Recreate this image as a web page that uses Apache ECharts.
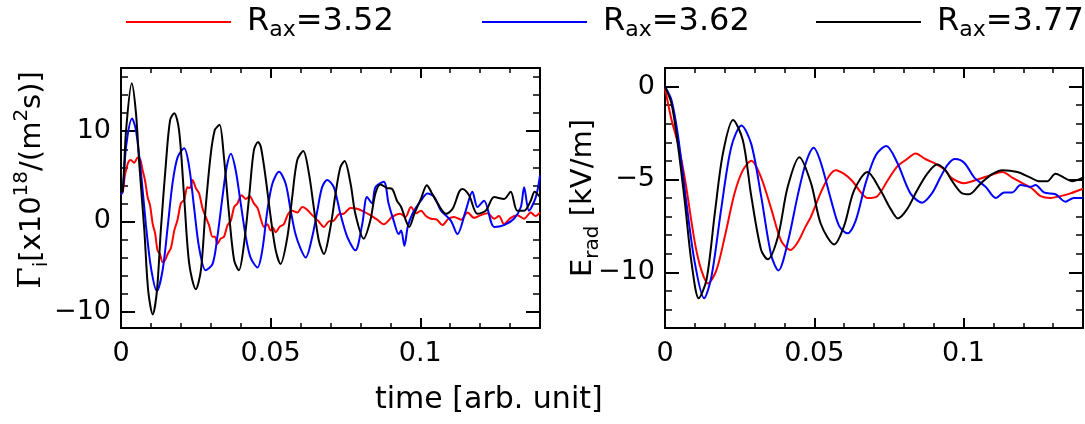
<!DOCTYPE html>
<html>
<head>
<meta charset="utf-8">
<script src="https://cdn.jsdelivr.net/npm/echarts@6.0.0/dist/echarts.min.js"></script>
<style>
  html, body { margin: 0; background: #fff; }
  #chart { width: 1085px; height: 424px; }
</style>
</head>
<body>
<div id="chart"></div>
<script>
// time axis ticks (both panels)
const timeMajor = [0, 0.05, 0.1]
const timeMinor = [0.01, 0.02, 0.03, 0.04, 0.06, 0.07, 0.08, 0.09, 0.11, 0.12, 0.13]
const fluxMajor = [-10, 0, 10]
const fluxMinor = [-8, -6, -4, -2, 2, 4, 6, 8, 12, 14, 16]
const eradMajor = [-10, -5, 0]
const eradMinor = [-12, -11, -9, -8, -7, -6, -4, -3, -2, -1]

const names = ['R_ax=3.52', 'R_ax=3.62', 'R_ax=3.77']
const colors = ['#ff0000', '#0000ff', '#000000']

// left panel: ion flux [t, value]
const flux352 = [[0,3.0],[0.0006,3.3],[0.0012,4.9],[0.0017,5.7],[0.0025,6.6],[0.0033,6.8],[0.0044,6.5],[0.0056,7.1],[0.0064,6.9],[0.0072,5.7],[0.008,4.6],[0.0089,2.7],[0.0097,1.8],[0.0106,-0.3],[0.0114,-1.3],[0.0122,-3.2],[0.013,-3.6],[0.0139,-4.5],[0.0147,-4.3],[0.0156,-3.6],[0.0167,-2.9],[0.0178,-1.0],[0.0189,0.2],[0.02,2.0],[0.0211,2.4],[0.0222,3.8],[0.023,3.7],[0.0239,4.6],[0.025,3.7],[0.0261,3.1],[0.0272,1.5],[0.0283,0.5],[0.0294,-0.4],[0.0306,-1.7],[0.0314,-1.7],[0.0322,-2.5],[0.0333,-1.9],[0.0344,-1.7],[0.0356,-0.4],[0.0367,0.1],[0.0378,1.6],[0.0389,2.0],[0.0403,2.9],[0.0417,2.5],[0.043,2.8],[0.0444,2.0],[0.0456,1.5],[0.0467,0.3],[0.0478,-0.6],[0.0489,-0.3],[0.05,-1.0],[0.0508,-0.7],[0.0517,-1.2],[0.053,-0.6],[0.0544,-0.3],[0.0558,0.8],[0.0572,1.2],[0.0589,1.0],[0.0606,1.6],[0.0622,1.3],[0.0639,0.7],[0.0658,0.1],[0.0678,-0.6],[0.0694,0.0],[0.0711,0.1],[0.0728,0.8],[0.0744,0.85],[0.0767,1.5],[0.0789,1.4],[0.0811,1.1],[0.0833,0.7],[0.0856,0.2],[0.0878,-0.3],[0.0906,0.5],[0.0933,0.85],[0.095,0.5],[0.0969,1.6],[0.0986,0.9],[0.1002,1.2],[0.1019,0.6],[0.1036,0.3],[0.1055,0.2],[0.1074,-0.4],[0.1094,0.3],[0.1113,0.5],[0.1136,0.2],[0.1158,1.0],[0.118,0.4],[0.1202,0.7],[0.1225,0.9],[0.1247,0.3],[0.1263,0.6],[0.128,-0.3],[0.1302,0.4],[0.1324,0.7],[0.1347,0.3],[0.1369,1.0],[0.1385,0.6],[0.14,1.0]]
const flux362 = [[0,3.0],[0.0006,3.4],[0.0017,8.3],[0.0037,11.4],[0.005,10.1],[0.0067,5.3],[0.0083,-0.3],[0.01,-5.1],[0.012,-7.7],[0.0139,-5.4],[0.0156,-0.6],[0.0172,4.2],[0.0189,7.1],[0.0211,8.1],[0.0228,6.0],[0.0244,1.6],[0.0261,-2.9],[0.0283,-5.4],[0.0306,-4.7],[0.0322,-1.7],[0.0339,2.7],[0.0353,6.0],[0.0367,7.5],[0.0383,5.7],[0.04,2.0],[0.0417,-1.7],[0.0433,-4.0],[0.0456,-5.1],[0.0472,-3.2],[0.0489,1.2],[0.0506,4.2],[0.0528,5.5],[0.055,4.2],[0.0567,1.2],[0.0583,-1.4],[0.06,-3.0],[0.0617,-4.0],[0.0639,-1.7],[0.0656,1.2],[0.0672,3.8],[0.0689,4.6],[0.0711,3.8],[0.0733,0.85],[0.0756,-1.7],[0.0783,-3.2],[0.0806,-0.3],[0.0822,2.7],[0.0839,2.0],[0.085,3.8],[0.0878,4.4],[0.0894,2.0],[0.0911,0.1],[0.0928,-1.4],[0.0936,-1.0],[0.0947,-2.7],[0.0958,-0.6],[0.0974,0.85],[0.1002,2.3],[0.1024,3.1],[0.1047,2.7],[0.1069,1.2],[0.1102,0.1],[0.1124,-1.4],[0.1152,1.2],[0.1174,3.3],[0.1191,1.6],[0.1213,2.3],[0.1247,-0.6],[0.128,-0.4],[0.1313,0.3],[0.1336,1.6],[0.1347,3.8],[0.1363,1.2],[0.1386,2.7],[0.14,5.1]]
const flux377 = [[0,3.3],[0.0006,3.4],[0.0017,10.1],[0.0036,15.3],[0.005,12.0],[0.0061,6.4],[0.0078,-1.0],[0.0091,-7.7],[0.0106,-10.3],[0.012,-7.7],[0.0133,-1.0],[0.015,6.4],[0.0164,11.2],[0.0178,12.0],[0.0194,10.1],[0.0211,2.7],[0.0228,-4.7],[0.025,-7.5],[0.0267,-5.4],[0.0283,1.6],[0.03,7.5],[0.0313,10.1],[0.0322,10.5],[0.033,10.7],[0.0344,7.1],[0.0361,0.85],[0.0378,-4.3],[0.0394,-5.4],[0.0411,-2.5],[0.0428,2.7],[0.0444,7.9],[0.0458,8.8],[0.0467,8.3],[0.0483,4.9],[0.05,0.5],[0.0517,-3.2],[0.0533,-4.7],[0.0556,-1.7],[0.0572,2.7],[0.0589,6.8],[0.0609,7.8],[0.0628,5.3],[0.0644,1.6],[0.0661,-2.1],[0.0678,-3.6],[0.07,-0.6],[0.0717,3.1],[0.0733,6.0],[0.0747,6.7],[0.0767,4.2],[0.0783,0.85],[0.0811,-1.9],[0.0833,0.1],[0.085,3.1],[0.0867,4.1],[0.0889,3.7],[0.0906,3.6],[0.0922,2.3],[0.0936,1.6],[0.0952,0.1],[0.0963,-0.6],[0.098,0.85],[0.1002,2.5],[0.1022,4.0],[0.1036,3.3],[0.1058,2.0],[0.1086,0.85],[0.1108,1.4],[0.113,3.3],[0.1141,3.6],[0.1163,2.9],[0.1191,0.85],[0.1219,1.2],[0.1247,2.7],[0.128,2.5],[0.1302,3.3],[0.1324,1.2],[0.1347,1.2],[0.1369,2.3],[0.1382,3.3],[0.14,2.7]]

// right panel: radial electric field [t, value]
const erad352 = [[0,-0.1],[0.0022,-1.8],[0.0044,-3.1],[0.0067,-5.0],[0.01,-8.4],[0.0122,-9.9],[0.0144,-10.6],[0.0172,-9.9],[0.02,-8.1],[0.0233,-5.75],[0.0261,-4.5],[0.0289,-4.0],[0.0322,-4.9],[0.0356,-6.6],[0.0389,-8.3],[0.042,-8.8],[0.0444,-8.4],[0.0472,-7.5],[0.0489,-7.0],[0.0522,-5.7],[0.055,-4.8],[0.0572,-4.5],[0.06,-4.7],[0.0628,-5.1],[0.0656,-5.7],[0.0678,-6.0],[0.0711,-5.9],[0.0744,-5.1],[0.0778,-4.3],[0.0811,-3.9],[0.0839,-3.6],[0.0872,-3.9],[0.0911,-4.2],[0.0939,-4.5],[0.0958,-4.9],[0.1002,-5.2],[0.1047,-5.0],[0.1086,-4.8],[0.113,-4.6],[0.1163,-4.9],[0.1197,-5.2],[0.123,-5.5],[0.1258,-5.9],[0.1291,-6.0],[0.1324,-5.9],[0.1358,-5.75],[0.14,-5.5]]
const erad362 = [[0,0],[0.0022,-0.75],[0.0044,-2.7],[0.0072,-6.3],[0.01,-9.5],[0.0131,-11.4],[0.0156,-10.2],[0.0189,-6.5],[0.0222,-3.25],[0.0256,-2.1],[0.0289,-3.1],[0.0322,-5.9],[0.0356,-9.1],[0.038,-9.9],[0.0411,-8.4],[0.0444,-5.9],[0.0472,-4.1],[0.0498,-3.3],[0.0522,-4.1],[0.0556,-6.1],[0.0583,-7.5],[0.0611,-7.9],[0.0639,-7.2],[0.0672,-5.2],[0.0706,-3.7],[0.0741,-3.2],[0.0778,-4.1],[0.0822,-5.75],[0.0861,-6.25],[0.0894,-5.75],[0.0922,-4.9],[0.0947,-4.2],[0.0971,-3.9],[0.1002,-4.1],[0.1036,-4.9],[0.1074,-5.4],[0.1108,-6.0],[0.1136,-5.7],[0.1163,-5.7],[0.1191,-5.3],[0.1224,-5.4],[0.1241,-5.3],[0.1269,-5.7],[0.1308,-5.8],[0.1341,-6.2],[0.1369,-6.0],[0.14,-6.0]]
const erad377 = [[0,0],[0.0022,-0.93],[0.0044,-3.25],[0.0067,-6.3],[0.0089,-9.5],[0.0113,-11.4],[0.0139,-10.4],[0.0167,-6.8],[0.0194,-3.6],[0.0228,-1.8],[0.0261,-2.9],[0.0289,-5.9],[0.0322,-8.8],[0.0344,-9.3],[0.0378,-8.1],[0.0411,-5.4],[0.045,-3.8],[0.0489,-5.2],[0.0522,-7.4],[0.0567,-8.5],[0.06,-7.5],[0.0633,-5.6],[0.0678,-4.6],[0.0722,-5.6],[0.0756,-6.6],[0.078,-7.1],[0.0811,-6.6],[0.0844,-5.6],[0.0878,-4.7],[0.0911,-4.2],[0.0939,-4.5],[0.0958,-5.0],[0.0991,-5.7],[0.1019,-5.8],[0.1058,-5.2],[0.1097,-4.7],[0.113,-4.5],[0.118,-4.6],[0.1224,-4.9],[0.1252,-5.1],[0.128,-5.1],[0.1308,-4.7],[0.1336,-4.9],[0.1363,-5.1],[0.14,-4.9]]

const FONT = 'DejaVu Sans'
const minus = v => (v < 0 ? '\u2212' + (-v) : String(v))

// frame: a major axis (line, long ticks, labels) and a minor axis (short ticks) on each side
function frameAxes(grid, min, max, major, minor, sides, majorLen, minorLen, label, name) {
  const out = []
  sides.forEach((pos, i) => {
    const ax = {
      type: 'value', gridIndex: grid, position: pos, min, max,
      axisLine: { show: true, onZero: false, lineStyle: { color: '#000', width: 2 } },
      axisTick: { show: true, inside: true, length: majorLen, customValues: major, lineStyle: { color: '#000', width: 2 } },
      axisLabel: i === 0 ? Object.assign({ show: true, customValues: major }, label) : { show: false },
      splitLine: { show: false }
    }
    if (i === 0 && name) Object.assign(ax, name)
    out.push(ax)
    out.push({
      type: 'value', gridIndex: grid, position: pos, min, max,
      axisLine: { show: false, onZero: false },
      axisTick: { show: true, inside: true, length: minorLen, customValues: minor, lineStyle: { color: '#000', width: 1.5 } },
      axisLabel: { show: false },
      splitLine: { show: false }
    })
  })
  return out
}

const xLabel = { color: '#000', fontFamily: FONT, fontSize: 27, margin: 12, formatter: v => String(v) }
const yLabel = { color: '#000', fontFamily: FONT, fontSize: 27, margin: 10, formatter: minus }

const nameRich = {
  g: { fontFamily: 'DejaVu Serif', fontSize: 31, lineHeight: 40, color: '#000' },
  t: { fontFamily: FONT, fontSize: 29, lineHeight: 40, color: '#000' },
  sub: { fontFamily: FONT, fontSize: 20, lineHeight: 20, verticalAlign: 'bottom', color: '#000' },
  sup: { fontFamily: FONT, fontSize: 20, lineHeight: 20, verticalAlign: 'top', color: '#000' }
}

const xAxis = [].concat(
  frameAxes(0, 0, 0.14, timeMajor, timeMinor, ['bottom', 'top'], 10, 5, xLabel),
  frameAxes(1, 0, 0.14, timeMajor, timeMinor, ['bottom', 'top'], 10, 5, xLabel)
)
const yAxis = [].concat(
  frameAxes(0, -11.8, 17, fluxMajor, fluxMinor, ['left', 'right'], 14, 7, yLabel, {
    name: '{g|\u0393}{sub|i}{t|[x10}{sup|18}{t|/(m}{sup|2}{t|s)]}',
    nameLocation: 'middle', nameRotate: 90, nameGap: 69, nameMoveOverlap: false,
    nameTextStyle: { rich: nameRich, padding: [0, 0, 0, 36] }
  }),
  frameAxes(1, -13, 1, eradMajor, eradMinor, ['left', 'right'], 14, 7, yLabel, {
    name: '{t|E}{sub|rad}{t| [kV/m]}',
    nameLocation: 'middle', nameRotate: 90, nameGap: 62, nameMoveOverlap: false,
    nameTextStyle: { rich: nameRich }
  })
)

const legendRich = {
  r0: { fontFamily: FONT, fontSize: 32, lineHeight: 38, color: '#000', padding: [0, 0, 0, 11] },
  r: { fontFamily: FONT, fontSize: 32, lineHeight: 38, color: '#000' },
  s: { fontFamily: FONT, fontSize: 22, lineHeight: 20, verticalAlign: 'bottom', color: '#000' }
}
const legendLeft = [121, 477, 811]
const legend = names.map((n, i) => ({
  data: [n], left: legendLeft[i], top: 1, icon: 'rect', itemWidth: 105, itemHeight: 2,
  selectedMode: false,
  formatter: name => '{r0|R}{s|ax}{r|=' + name.split('=')[1] + '}',
  textStyle: { rich: legendRich }
}))

const fluxData = [flux352, flux362, flux377]
const eradData = [erad352, erad362, erad377]
const series = []
names.forEach((n, i) => {
  series.push({ name: n, type: 'line', xAxisIndex: 0, yAxisIndex: 0, data: fluxData[i], symbol: 'none', smooth: 0.3,
    lineStyle: { color: colors[i], width: 2 }, itemStyle: { color: colors[i] } })
  series.push({ name: n, type: 'line', xAxisIndex: 4, yAxisIndex: 4, data: eradData[i], symbol: 'none', smooth: 0.3,
    lineStyle: { color: colors[i], width: 2 }, itemStyle: { color: colors[i] } })
})

const chart = echarts.init(document.getElementById('chart'), null, { renderer: 'canvas' })
chart.setOption({
  animation: false,
  backgroundColor: '#fff',
  title: { text: 'time [arb. unit]', left: 370, top: 380, textStyle: { fontFamily: FONT, fontSize: 30, fontWeight: 'normal', color: '#000' } },
  legend,
  grid: [
    { left: 121, top: 68, width: 419, height: 260 },
    { left: 665, top: 68, width: 418, height: 260 }
  ],
  xAxis,
  yAxis,
  series
})
</script>
</body>
</html>
